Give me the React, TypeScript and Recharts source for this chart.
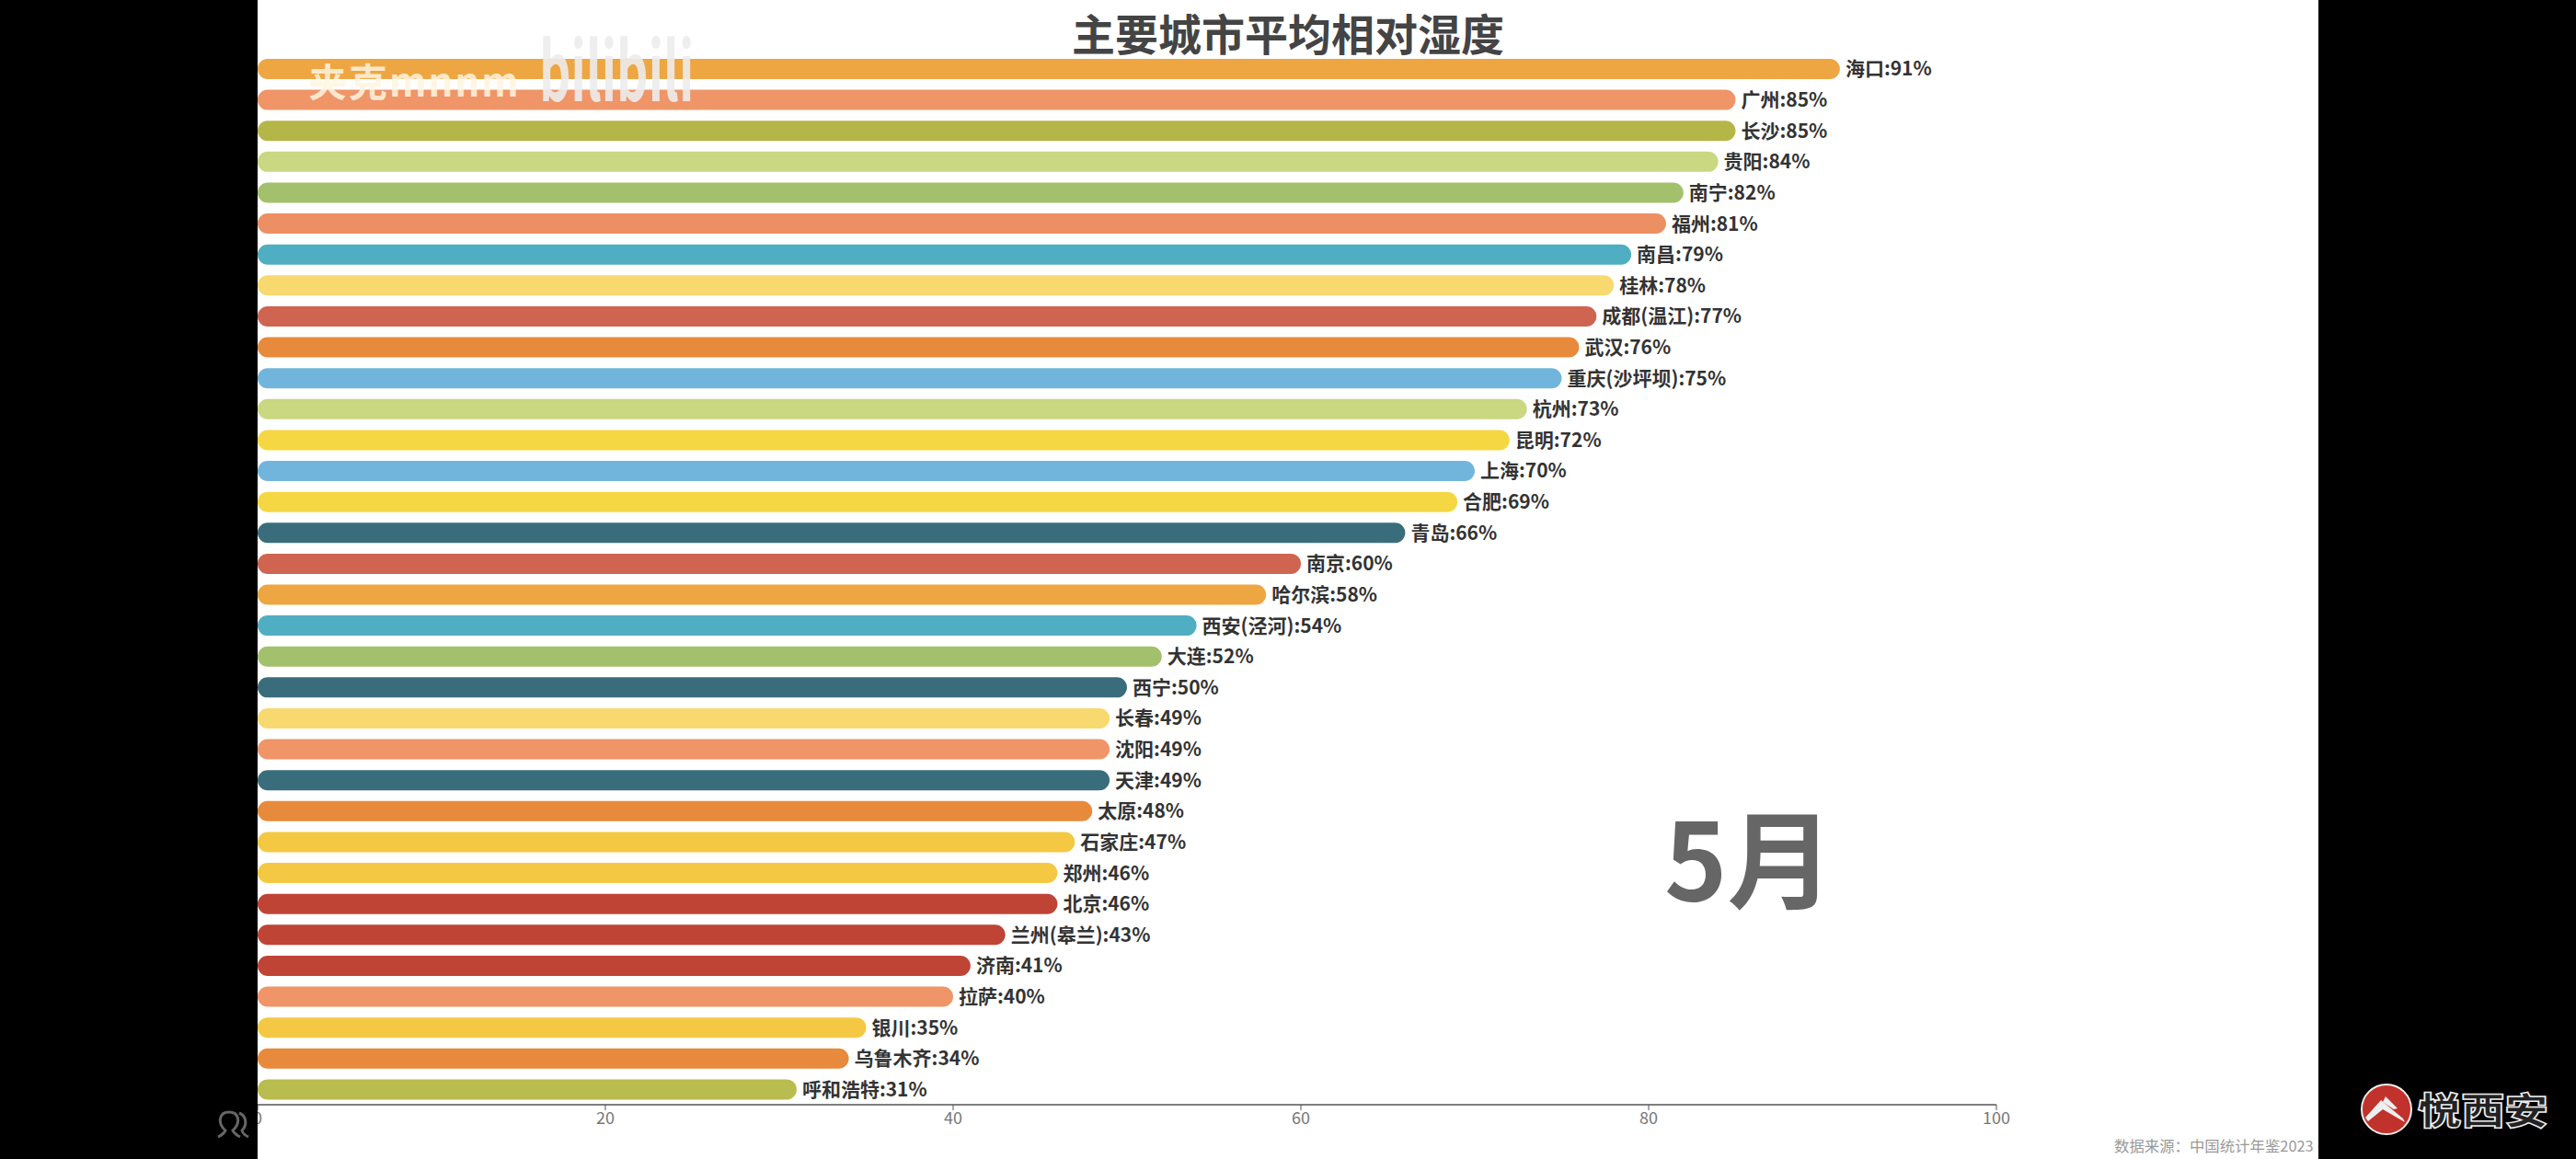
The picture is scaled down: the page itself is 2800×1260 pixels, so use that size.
import { BarChart, Bar, XAxis, YAxis, Cell, LabelList } from "recharts";

const cities = [
  "海口", "广州", "长沙", "贵阳", "南宁", "福州", "南昌", "桂林", "成都(温江)", "武汉", "重庆(沙坪坝)", "杭州",
  "昆明", "上海", "合肥", "青岛", "南京", "哈尔滨", "西安(泾河)", "大连", "西宁", "长春", "沈阳", "天津",
  "太原", "石家庄", "郑州", "北京", "兰州(皋兰)", "济南", "拉萨", "银川", "乌鲁木齐", "呼和浩特",
];

const humidity = [
  91, 85, 85, 84, 82, 81, 79, 78, 77, 76, 75, 73,
  72, 70, 69, 66, 60, 58, 54, 52, 50, 49, 49, 49,
  48, 47, 46, 46, 43, 41, 40, 35, 34, 31,
];

const barColors = [
  "#eea643", "#ef9568", "#b5b648", "#c9d881", "#a3c06d", "#ec8f62", "#50aec2", "#f7d96f", "#cf6450", "#e88a3b", "#72b5dc", "#c9d881",
  "#f5d743", "#72b5dc", "#f5d743", "#3a6d7b", "#cf6450", "#eea643", "#50aec2", "#a3c06d", "#3a6d7b", "#f7d96f", "#ef9568", "#3a6d7b",
  "#e88a3b", "#f5c843", "#f5c843", "#bf4436", "#bf4436", "#bf4436", "#ef9568", "#f5c843", "#e88a3b", "#b9bc4e",
];

const xTicks = [0, 20, 40, 60, 80, 100];

const rows = cities.map((city, i) => ({
  city,
  value: humidity[i],
  label: `${city}:${humidity[i]}%`,
}));

const cjk = '"Noto Sans CJK SC", "Noto Sans", sans-serif';

export default function App() {
  return (
    <div style={{ position: "absolute", left: 0, top: 0, width: 2800, height: 1260, background: "#fff", overflow: "hidden", fontFamily: cjk }}>
      <div style={{ position: "absolute", left: 280, top: 0 }}>
        <BarChart
          layout="vertical"
          width={2240}
          height={1260}
          data={rows}
          margin={{ top: 58, right: 350, bottom: 19, left: 0 }}
        >
          <XAxis
            type="number"
            domain={[0, 100]}
            ticks={xTicks}
            height={40}
            interval={0}
            axisLine={{ stroke: "#555", strokeWidth: 1.5 }}
            tickLine={{ stroke: "#555" }}
            tickSize={6}
            tick={{ fill: "#777", fontSize: 18, fontFamily: cjk }}
          />
          <YAxis type="category" dataKey="city" hide width={0} />
          <Bar dataKey="value" barSize={22} radius={11} isAnimationActive={false}>
            {rows.map((row, i) => (
              <Cell key={row.city} fill={barColors[i]} />
            ))}
            <LabelList
              dataKey="label"
              position="right"
              offset={6}
              style={{ fill: "#333", fontSize: 21, fontWeight: 700, fontFamily: cjk }}
            />
          </Bar>
        </BarChart>
      </div>

      <div style={{ position: "absolute", left: 1000, top: 3, width: 800, textAlign: "center", fontSize: 47, lineHeight: "64px", fontWeight: 700, color: "#444" }}>
        主要城市平均相对湿度
      </div>
      <div style={{ position: "absolute", left: 1809, top: 843, fontSize: 116, lineHeight: "170px", fontWeight: 700, color: "#666" }}>
        5月
      </div>
      <div style={{ position: "absolute", left: 2298, top: 1233, fontSize: 16.4, lineHeight: "24px", color: "#999", whiteSpace: "nowrap" }}>
        数据来源：中国统计年鉴2023
      </div>

      {/* video watermark over the bars */}
      <div style={{ position: "absolute", left: 335, top: 57, fontSize: 42, lineHeight: "60px", fontWeight: 700, letterSpacing: 2, color: "rgba(255,245,225,0.85)" }}>
        夹克mnnm
      </div>
      <div style={{ position: "absolute", left: 586, top: 22, fontSize: 88, lineHeight: "100px", fontWeight: 700, color: "rgba(236,236,236,0.9)", transform: "scaleX(0.61)", transformOrigin: "left center" }}>
        bilibili
      </div>

      {/* black side panels */}
      <div style={{ position: "absolute", left: 0, top: 0, width: 280, height: 1260, background: "#000" }} />
      <div style={{ position: "absolute", left: 2520, top: 0, width: 280, height: 1260, background: "#000" }} />

      <svg style={{ position: "absolute", left: 234, top: 1207 }} width={40} height={32} fill="none" stroke="#666" strokeWidth={3}>
        <path d="M3 29 Q9 26 11 22 C2 14 4 2 15 2 C26 2 28 14 19 22 Q21 26 27 29" />
        <path d="M26 3 C34 6 35 16 29 22 Q30 26 36 29" />
      </svg>

      {/* channel logo */}
      <svg style={{ position: "absolute", left: 2566, top: 1178 }} width={56} height={56}>
        <circle cx={28} cy={28} r={27} fill="#c0322b" stroke="#eee" strokeWidth={2} />
        <path d="M5 37 L22 18 L46 38 L48 42 L24 28 L8 41 Z" fill="#eee" />
        <path d="M27 14 L40 27 L36 28 L24 20 Z" fill="#eee" />
      </svg>
      <div style={{ position: "absolute", left: 2628, top: 1179, fontSize: 40, lineHeight: "52px", fontWeight: 900, color: "#222", WebkitTextStroke: "1.5px #eee", transform: "scaleX(1.18)", transformOrigin: "left center", whiteSpace: "nowrap" }}>
        悦西安
      </div>
    </div>
  );
}
